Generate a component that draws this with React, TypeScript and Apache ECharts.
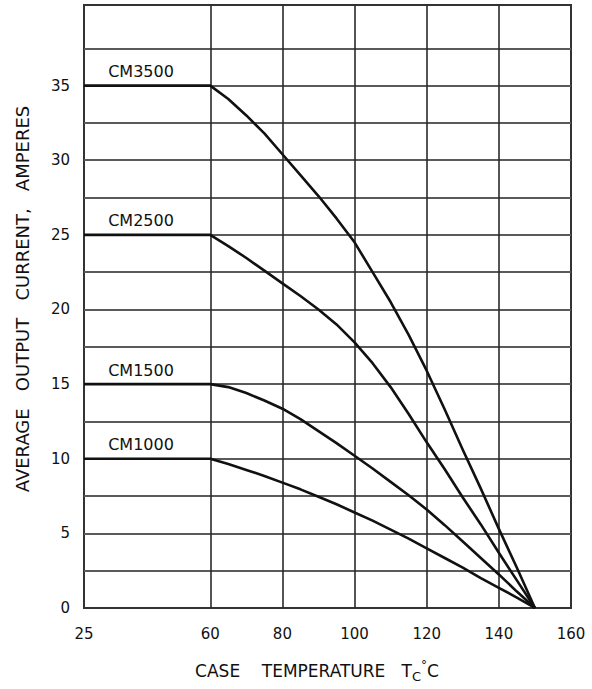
import React, { useEffect, useRef } from "react";
import * as echarts from "echarts";

// Case temperature (°C) sample points shared by all curves
const temperatures = [25, 60, 65, 70, 75, 80, 85, 90, 95, 100, 105, 110, 115, 120, 125, 130, 135, 140, 145, 150];
// Average output current (A) per device
const cm3500 = [35, 35, 34.1, 33.0, 31.8, 30.4, 29.0, 27.6, 26.1, 24.5, 22.5, 20.5, 18.3, 15.9, 13.3, 10.6, 8.0, 5.3, 2.7, 0];
const cm2500 = [25, 25, 24.25, 23.45, 22.6, 21.75, 20.9, 20.0, 19.0, 17.8, 16.4, 14.8, 13.0, 11.1, 9.3, 7.4, 5.6, 3.7, 1.85, 0];
const cm1500 = [15, 15, 14.8, 14.4, 13.9, 13.35, 12.65, 11.85, 11.05, 10.2, 9.35, 8.45, 7.55, 6.6, 5.55, 4.45, 3.35, 2.25, 1.1, 0];
const cm1000 = [10, 10, 9.65, 9.25, 8.85, 8.4, 7.95, 7.45, 6.95, 6.4, 5.85, 5.25, 4.65, 4.0, 3.35, 2.7, 2.0, 1.35, 0.7, 0];
const seriesNames = ["CM3500", "CM2500", "CM1500", "CM1000"];

const xTickLabels = [25, 60, 80, 100, 120, 140, 160];
const yTickLabels = [0, 5, 10, 15, 20, 25, 30, 35];
const hGridLines = [2.5, 5, 7.5, 10, 12.5, 15, 17.5, 20, 22.5, 25, 27.5, 30, 32.5, 35, 37.5];
const vGridLines = [60, 80, 100, 120, 140];

export default function App() {
  const ref = useRef<HTMLDivElement>(null);
  useEffect(() => {
    if (!ref.current) return;
    const chart = echarts.init(ref.current, null, { renderer: "svg" });
    const font = "DejaVu Sans";
    const values = [cm3500, cm2500, cm1500, cm1000];

    const series: any[] = values.map((vals, i) => {
      const s: any = {
        type: "line",
        name: seriesNames[i],
        data: temperatures.map((t, j) => [t, vals[j]]),
        showSymbol: false,
        smooth: false,
        lineStyle: { color: "#111", width: 2.6, join: "round" },
        z: 3,
        silent: true,
        markPoint: {
          symbol: "circle",
          symbolSize: 1,
          silent: true,
          itemStyle: { color: "transparent" },
          label: {
            show: true,
            position: "inside",
            offset: [57, -14],
            formatter: seriesNames[i],
            color: "#111",
            fontSize: 16,
            fontFamily: font,
          },
          data: [{ coord: [temperatures[0], vals[0]] }],
        },
      };
      if (i === values.length - 1) {
        s.markLine = {
          silent: true,
          symbol: ["none", "none"],
          label: { show: false },
          emphasis: { disabled: true },
          z: 1,
          data: [
            ...hGridLines.map((v) => ({
              yAxis: v,
              lineStyle: { color: "#5a5a5a", width: 1.8, type: "solid" },
            })),
            ...vGridLines.map((v) => ({
              xAxis: v,
              lineStyle: { color: "#2a2a2a", width: 1.6, type: "solid" },
            })),
          ],
        };
      }
      return s;
    });

    chart.setOption({
      animation: false,
      backgroundColor: "#fff",
      grid: {
        left: 84,
        right: 21,
        top: 5,
        bottom: 81,
        show: true,
        borderColor: "#333",
        borderWidth: 2,
        backgroundColor: "transparent",
      },
      xAxis: {
        type: "value",
        min: 25,
        max: 160,
        axisLine: { show: false },
        axisTick: { show: false },
        splitLine: { show: false },
        axisLabel: {
          customValues: xTickLabels,
          color: "#111",
          fontSize: 15,
          fontFamily: font,
          margin: 18,
        },
      },
      yAxis: {
        type: "value",
        min: 0,
        max: 40.4,
        interval: 2.5,
        axisLine: { show: false },
        axisTick: { show: false },
        splitLine: { show: false },
        axisLabel: {
          color: "#111",
          fontSize: 15,
          fontFamily: font,
          margin: 14,
          formatter: (v: number) => (yTickLabels.includes(v) ? String(v) : ""),
        },
      },
      graphic: [
        {
          type: "text",
          x: 317,
          y: 671,
          silent: true,
          style: {
            text: "{a|CASE    TEMPERATURE   T}{b|C}{c|°}{a|C}",
            x: 0,
            y: 0,
            align: "center",
            textAlign: "center",
            verticalAlign: "middle",
            textVerticalAlign: "middle",
            fill: "#111",
            rich: {
              a: { fontSize: 17, fontFamily: font, lineHeight: 24, fill: "#111", color: "#111" },
              b: { fontSize: 13, fontFamily: font, lineHeight: 13, verticalAlign: "bottom", fill: "#111", color: "#111" },
              c: { fontSize: 12, fontFamily: font, lineHeight: 12, verticalAlign: "top", fill: "#111", color: "#111" },
            },
          },
        },
        {
          type: "text",
          x: 22,
          y: 299,
          rotation: Math.PI / 2,
          silent: true,
          style: {
            text: "AVERAGE   OUTPUT   CURRENT,   AMPERES",
            x: 0,
            y: 0,
            font: `18px "${font}"`,
            align: "center",
            textAlign: "center",
            verticalAlign: "middle",
            textVerticalAlign: "middle",
            fill: "#111",
          },
        },
      ],
      series,
    });
    return () => chart.dispose();
  }, []);
  return (
    <div
      ref={ref}
      style={{ position: "absolute", left: 0, top: 0, width: 592, height: 689 }}
    />
  );
}
